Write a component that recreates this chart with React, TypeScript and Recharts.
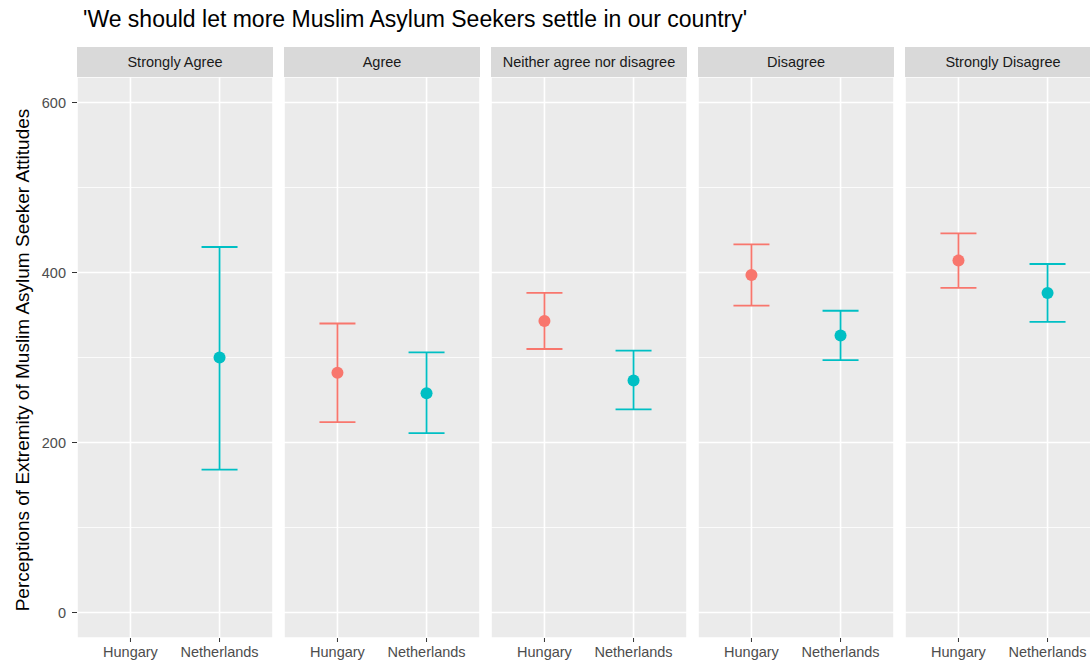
import { ScatterChart, Scatter, XAxis, YAxis, CartesianGrid, ErrorBar, ReferenceLine } from "recharts";

const responses = ["Strongly Agree", "Agree", "Neither agree nor disagree", "Disagree", "Strongly Disagree"];
const countries = ["Hungary", "Netherlands"];

const hungaryMean = [null, 282, 343, 397, 414];
const hungaryLower = [null, 224, 310, 361, 382];
const hungaryUpper = [null, 340, 376, 433, 446];

const netherlandsMean = [300, 258, 273, 326, 376];
const netherlandsLower = [168, 211, 239, 297, 342];
const netherlandsUpper = [430, 306, 308, 355, 410];

const yTicks = [0, 200, 400, 600];
const yMinor = [100, 300, 500];

const FONT = "'Liberation Sans', Arial, Helvetica, sans-serif";
const HUN = "#F8766D";
const NLD = "#00BFC4";

const PANEL_LEFT = 77;
const PANEL_W = 196;
const PANEL_STEP = 207;
const PANEL_TOP = 77;
const PANEL_H = 561;
const X_AXIS_H = 25;
const Y_AXIS_W = 77;

function pointData(i: number, means: (number | null)[], lows: (number | null)[], highs: (number | null)[], x: number) {
    const m = means[i];
    const lo = lows[i];
    const hi = highs[i];
    if (m == null || lo == null || hi == null) return [];
    return [{ x, y: m, err: [m - lo, hi - m] }];
}

const dot = (color: string) => (props: any) => (
    <circle cx={props.cx} cy={props.cy} r={6} fill={color} />
);

function Panel({ index }: { index: number }) {
    const first = index === 0;
    const left = first ? 0 : PANEL_LEFT + index * PANEL_STEP;
    const width = first ? Y_AXIS_W + PANEL_W : PANEL_W;
    const hun = pointData(index, hungaryMean, hungaryLower, hungaryUpper, 1);
    const nld = pointData(index, netherlandsMean, netherlandsLower, netherlandsUpper, 2);

    return (
        <div style={{ position: "absolute", left, top: PANEL_TOP }}>
            <ScatterChart width={width} height={PANEL_H + X_AXIS_H} margin={{ top: 0, right: 0, bottom: 0, left: 0 }}>
                <CartesianGrid fill="#EBEBEB" stroke="#FFFFFF" strokeWidth={1.6} />
                {yMinor.map((v) => (
                    <ReferenceLine key={v} y={v} stroke="#FFFFFF" strokeWidth={0.8} />
                ))}
                <XAxis
                    type="number"
                    dataKey="x"
                    domain={[0.4, 2.6]}
                    ticks={[1, 2]}
                    interval={0}
                    allowDataOverflow
                    tickFormatter={(v: number) => countries[v - 1]}
                    axisLine={false}
                    tickLine={{ stroke: "#333333" }}
                    tickSize={4}
                    tickMargin={5}
                    height={X_AXIS_H}
                    tick={{ fill: "#4D4D4D", fontSize: 14.5, fontFamily: FONT }}
                />
                <YAxis
                    type="number"
                    dataKey="y"
                    domain={[-30, 630]}
                    ticks={yTicks}
                    interval={0}
                    allowDataOverflow
                    hide={!first}
                    width={Y_AXIS_W}
                    axisLine={false}
                    tickLine={{ stroke: "#333333" }}
                    tickSize={5}
                    tickMargin={6}
                    tick={{ fill: "#4D4D4D", fontSize: 14.5, fontFamily: FONT }}
                />
                <Scatter data={hun} fill={HUN} shape={dot(HUN)} isAnimationActive={false}>
                    <ErrorBar dataKey="err" direction="y" width={18} stroke={HUN} strokeWidth={1.8} />
                </Scatter>
                <Scatter data={nld} fill={NLD} shape={dot(NLD)} isAnimationActive={false}>
                    <ErrorBar dataKey="err" direction="y" width={18} stroke={NLD} strokeWidth={1.8} />
                </Scatter>
            </ScatterChart>
        </div>
    );
}

export default function App() {
    return (
        <div
            style={{
                position: "absolute",
                left: 0,
                top: 0,
                width: 1090,
                height: 662,
                overflow: "hidden",
                background: "#FFFFFF",
                fontFamily: FONT,
            }}
        >
            <div style={{ position: "absolute", left: 83, top: 6, fontSize: 23, color: "#000000", whiteSpace: "nowrap" }}>
                'We should let more Muslim Asylum Seekers settle in our country'
            </div>
            <div
                style={{
                    position: "absolute",
                    left: 23,
                    top: 360,
                    transform: "translate(-50%, -50%) rotate(-90deg)",
                    fontSize: 19,
                    color: "#000000",
                    whiteSpace: "nowrap",
                }}
            >
                Perceptions of Extremity of Muslim Asylum Seeker Attitudes
            </div>
            {responses.map((r, i) => (
                <div
                    key={r}
                    style={{
                        position: "absolute",
                        left: PANEL_LEFT + i * PANEL_STEP,
                        top: 47,
                        width: PANEL_W,
                        height: 30,
                        lineHeight: "30px",
                        background: "#D9D9D9",
                        color: "#1A1A1A",
                        fontSize: 14.5,
                        textAlign: "center",
                        whiteSpace: "nowrap",
                    }}
                >
                    {r}
                </div>
            ))}
            {responses.map((r, i) => (
                <Panel key={r} index={i} />
            ))}
        </div>
    );
}
